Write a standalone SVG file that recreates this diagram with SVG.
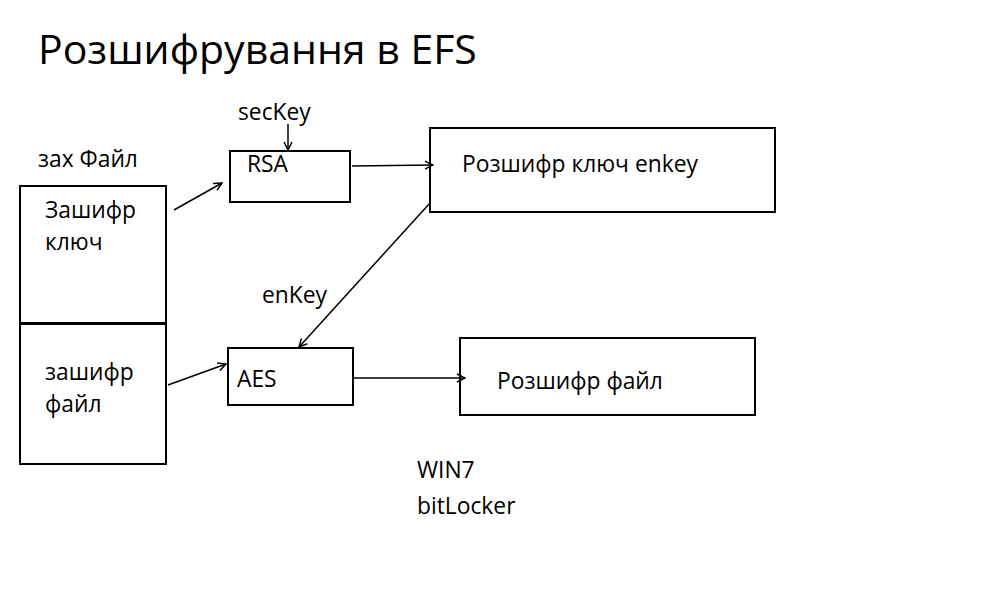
<svg xmlns="http://www.w3.org/2000/svg" width="1000" height="600" viewBox="0 0 1000 600">
<style>
text{font-family:"Open Sans","Liberation Sans",Arial,sans-serif;fill:#000;font-size:22.8px}
.title{font-size:41px}
.box{fill:#fff;stroke:#000;stroke-width:2}
.ln{stroke:#000;stroke-width:1.5;fill:none;marker-end:url(#ah)}
</style>
<defs>
<marker id="ah" viewBox="0 0 10 10" refX="9" refY="5" markerWidth="10" markerHeight="10" markerUnits="userSpaceOnUse" orient="auto">
<path d="M1,1 L9,5 L1,9" fill="none" stroke="#000" stroke-width="1.5"/>
</marker>
</defs>
<rect width="1000" height="600" fill="#fff"/>
<text class="title" x="38" y="64">Розшифрування в EFS</text>
<text x="38" y="167">зах Файл</text>
<g id="file">
<rect class="box" x="20" y="186" width="146" height="278"/>
<line x1="20" y1="323.5" x2="166" y2="323.5" stroke="#000" stroke-width="3"/>
<text x="45" y="218">Зашифр</text>
<text x="45" y="250">ключ</text>
<text x="45" y="380">зашифр</text>
<text x="45" y="412">файл</text>
</g>
<g id="rsa">
<rect class="box" x="230" y="151" width="120" height="51"/>
<text x="247" y="172">RSA</text>
</g>
<g id="deckey">
<rect class="box" x="430" y="128" width="345" height="84"/>
<text x="462" y="172">Розшифр ключ enkey</text>
</g>
<g id="aes">
<rect class="box" x="228" y="348" width="125" height="57"/>
<text x="237" y="387">AES</text>
</g>
<g id="decfile">
<rect class="box" x="460" y="338" width="295" height="77"/>
<text x="497" y="389">Розшифр файл</text>
</g>
<text x="238" y="120">secKey</text>
<text x="262" y="303">enKey</text>
<text x="417" y="478">WIN7</text>
<text x="417" y="514">bitLocker</text>
<g id="connectors">
<line class="ln" x1="288" y1="124" x2="288" y2="150"/>
<line class="ln" x1="174" y1="210" x2="222" y2="183"/>
<line class="ln" x1="352" y1="166" x2="433" y2="165"/>
<line class="ln" x1="430" y1="203" x2="299" y2="347"/>
<line class="ln" x1="168" y1="385" x2="226" y2="364"/>
<line class="ln" x1="353" y1="378" x2="465" y2="378"/>
</g>
</svg>
